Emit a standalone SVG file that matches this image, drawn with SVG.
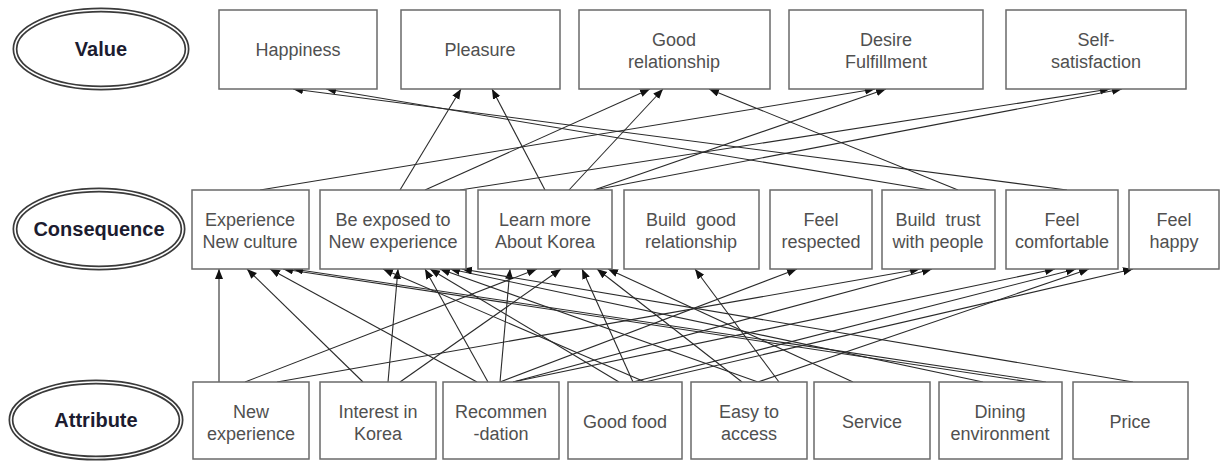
<svg xmlns="http://www.w3.org/2000/svg" width="1221" height="462" viewBox="0 0 1221 462">
<style>
.box{fill:#fff;stroke:#6a6a6a;stroke-width:1.5}
.t{font-family:"Liberation Sans",Arial,sans-serif;font-size:18px;fill:#505050;text-anchor:middle}
.lbl{font-family:"Liberation Sans",Arial,sans-serif;font-size:20px;font-weight:bold;fill:#1c1c30;text-anchor:middle}
.eo{fill:#fff;stroke:#3a3a3a;stroke-width:5}
.ei{fill:none;stroke:#fff;stroke-width:1.6}
.c line{stroke:#2a2a2a;stroke-width:1.1;marker-end:url(#ah)}
</style>
<defs>
<marker id="ah" markerUnits="userSpaceOnUse" markerWidth="11" markerHeight="9" refX="10" refY="4" orient="auto">
<path d="M0,0 L10,4 L0,8 z" fill="#111"/>
</marker>
</defs>
<rect width="1221" height="462" fill="#fff"/>

<g id="lvl-value"><ellipse class="eo" cx="101" cy="49" rx="86" ry="39"/><ellipse class="ei" cx="101" cy="49" rx="86" ry="39"/><text class="lbl" x="101" y="56">Value</text></g>
<g id="lvl-consequence"><ellipse class="eo" cx="99" cy="229" rx="84" ry="39"/><ellipse class="ei" cx="99" cy="229" rx="84" ry="39"/><text class="lbl" x="99" y="236">Consequence</text></g>
<g id="lvl-attribute"><ellipse class="eo" cx="96" cy="420" rx="85" ry="38"/><ellipse class="ei" cx="96" cy="420" rx="85" ry="38"/><text class="lbl" x="96" y="427">Attribute</text></g>

<g id="connectors" class="c">
<line x1="260" y1="190" x2="875" y2="89"/>
<line x1="400" y1="190" x2="461" y2="89"/>
<line x1="425" y1="190" x2="650" y2="89"/>
<line x1="460" y1="190" x2="1110" y2="89"/>
<line x1="545" y1="190" x2="492" y2="89"/>
<line x1="569" y1="190" x2="663" y2="89"/>
<line x1="594" y1="190" x2="886" y2="89"/>
<line x1="594" y1="190" x2="1122" y2="89"/>
<line x1="930" y1="190" x2="326" y2="89"/>
<line x1="958" y1="190" x2="709" y2="89"/>
<line x1="1067" y1="190" x2="293" y2="89"/>

<line x1="219" y1="382" x2="219" y2="269"/>
<line x1="245" y1="382" x2="537" y2="269"/>
<line x1="277" y1="382" x2="920" y2="269"/>
<line x1="363" y1="382" x2="247" y2="269"/>
<line x1="388" y1="382" x2="398" y2="269"/>
<line x1="400" y1="382" x2="561" y2="269"/>
<line x1="477" y1="382" x2="270" y2="269"/>
<line x1="488" y1="382" x2="425" y2="269"/>
<line x1="500" y1="382" x2="510" y2="269"/>
<line x1="500" y1="382" x2="797" y2="269"/>
<line x1="513" y1="382" x2="932" y2="269"/>
<line x1="513" y1="382" x2="1055" y2="269"/>
<line x1="619" y1="382" x2="430" y2="269"/>
<line x1="633" y1="382" x2="582" y2="269"/>
<line x1="645" y1="382" x2="383" y2="269"/>
<line x1="633" y1="382" x2="1076" y2="269"/>
<line x1="645" y1="382" x2="1133" y2="269"/>
<line x1="742" y1="382" x2="597" y2="269"/>
<line x1="758" y1="382" x2="440" y2="269"/>
<line x1="758" y1="382" x2="1089" y2="269"/>
<line x1="779" y1="382" x2="695" y2="269"/>
<line x1="853" y1="382" x2="608" y2="269"/>
<line x1="983" y1="382" x2="450" y2="269"/>
<line x1="1030" y1="382" x2="283" y2="269"/>
<line x1="1046" y1="382" x2="293" y2="269"/>
<line x1="1133" y1="382" x2="462" y2="269"/>
</g>

<g id="v-happiness"><rect class="box" x="219" y="10" width="158" height="79"/><text class="t" x="298" y="56">Happiness</text></g>
<g id="v-pleasure"><rect class="box" x="401" y="10" width="159" height="79"/><text class="t" x="480" y="56">Pleasure</text></g>
<g id="v-goodrel"><rect class="box" x="579" y="10" width="191" height="79"/><text class="t" x="674" y="46">Good</text><text class="t" x="674" y="68">relationship</text></g>
<g id="v-desire"><rect class="box" x="789" y="10" width="194" height="79"/><text class="t" x="886" y="46">Desire</text><text class="t" x="886" y="68">Fulfillment</text></g>
<g id="v-self"><rect class="box" x="1006" y="10" width="180" height="79"/><text class="t" x="1096" y="46">Self-</text><text class="t" x="1096" y="68">satisfaction</text></g>

<g id="c-expculture"><rect class="box" x="192" y="190" width="117" height="79"/><text class="t" x="250" y="226">Experience</text><text class="t" x="250" y="248">New culture</text></g>
<g id="c-exposed"><rect class="box" x="320" y="190" width="146" height="79"/><text class="t" x="393" y="226">Be exposed to</text><text class="t" x="393" y="248">New experience</text></g>
<g id="c-learn"><rect class="box" x="478" y="190" width="134" height="79"/><text class="t" x="545" y="226">Learn more</text><text class="t" x="545" y="248">About Korea</text></g>
<g id="c-buildrel"><rect class="box" x="624" y="190" width="135" height="79"/><text class="t" x="691" y="226">Build&#160; good</text><text class="t" x="691" y="248">relationship</text></g>
<g id="c-respected"><rect class="box" x="770" y="190" width="102" height="79"/><text class="t" x="821" y="226">Feel</text><text class="t" x="821" y="248">respected</text></g>
<g id="c-trust"><rect class="box" x="882" y="190" width="113" height="79"/><text class="t" x="938" y="226">Build&#160; trust</text><text class="t" x="938" y="248">with people</text></g>
<g id="c-comfortable"><rect class="box" x="1006" y="190" width="112" height="79"/><text class="t" x="1062" y="226">Feel</text><text class="t" x="1062" y="248">comfortable</text></g>
<g id="c-happy"><rect class="box" x="1129" y="190" width="90" height="79"/><text class="t" x="1174" y="226">Feel</text><text class="t" x="1174" y="248">happy</text></g>

<g id="a-newexp"><rect class="box" x="193" y="382" width="116" height="77"/><text class="t" x="251" y="418">New</text><text class="t" x="251" y="440">experience</text></g>
<g id="a-interest"><rect class="box" x="320" y="382" width="116" height="77"/><text class="t" x="378" y="418">Interest in</text><text class="t" x="378" y="440">Korea</text></g>
<g id="a-recommend"><rect class="box" x="443" y="382" width="116" height="77"/><text class="t" x="501" y="418">Recommen</text><text class="t" x="501" y="440">-dation</text></g>
<g id="a-food"><rect class="box" x="568" y="382" width="114" height="77"/><text class="t" x="625" y="428">Good food</text></g>
<g id="a-access"><rect class="box" x="691" y="382" width="116" height="77"/><text class="t" x="749" y="418">Easy to</text><text class="t" x="749" y="440">access</text></g>
<g id="a-service"><rect class="box" x="814" y="382" width="116" height="77"/><text class="t" x="872" y="428">Service</text></g>
<g id="a-dining"><rect class="box" x="939" y="382" width="123" height="77"/><text class="t" x="1000" y="418">Dining</text><text class="t" x="1000" y="440">environment</text></g>
<g id="a-price"><rect class="box" x="1073" y="382" width="115" height="77"/><text class="t" x="1130" y="428">Price</text></g>
</svg>
